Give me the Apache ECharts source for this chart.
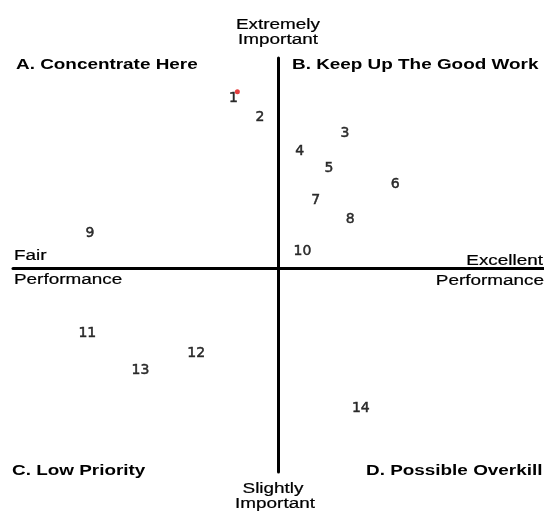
<!DOCTYPE html>
<html>
<head>
<meta charset="utf-8">
<script src="https://cdn.jsdelivr.net/npm/echarts@6/dist/echarts.min.js"></script>
<style>html,body{margin:0;padding:0;background:#fff;}#c{width:544px;height:511px;}</style>
</head>
<body>
<div id="c"></div>
<script>
// Item numbers and their positions (performance: -10 fair .. +10 excellent; importance: -10 slightly .. +10 extremely)
const itemLabels = ['1','2','3','4','5','6','7','8','9','10','11','12','13','14'];
const performance = [-1.7, -0.7, 2.5, 0.8, 1.9, 4.4, 1.4, 2.7, -7.1, 0.9, -7.2, -3.1, -5.2, 3.1];
const importance  = [8.3, 7.4, 6.6, 5.7, 4.9, 4.1, 3.3, 2.4, 1.7, 0.8, -3.2, -4.2, -5.0, -6.9];
// small red mark next to item 1
const markPerf = [-1.55];
const markImp = [8.65];

const quadrantTitles = ['A. Concentrate Here','B. Keep Up The Good Work','C. Low Priority','D. Possible Overkill'];
const axisTexts = ['Extremely','Important','Slightly','Important','Fair','Performance','Excellent','Performance'];

const chart = echarts.init(document.getElementById('c'));
const pts = itemLabels.map((n,i)=>({name:n, value:[performance[i], importance[i]]}));
const marks = markPerf.map((x,i)=>[x, markImp[i]]);

const SX = 1.35;
function txt(text, x, y, align, bold){
  const st = {text:text, font:(bold?'bold ':'')+'14px "Liberation Sans", Arial, sans-serif', fill:'#000',
      textAlign:align, textVerticalAlign:'middle', align:align, verticalAlign:'middle'};
  if(!bold){ st.stroke = '#000'; st.lineWidth = 0.2; }
  return {type:'text', x:x, y:y, scaleX:SX, z:10, style:st};
}

chart.setOption({
  animation:false,
  backgroundColor:'#fff',
  grid:{left:13, right:0, top:58, bottom:39},
  xAxis:{type:'value', min:-10, max:10,
    axisLine:{onZero:true, lineStyle:{color:'#000', width:3}},
    axisTick:{show:false}, axisLabel:{show:false}, splitLine:{show:false}},
  yAxis:{type:'value', min:-10, max:10.3,
    axisLine:{onZero:true, lineStyle:{color:'#000', width:3}},
    axisTick:{show:false}, axisLabel:{show:false}, splitLine:{show:false}},
  series:[
    {type:'scatter', data:pts, symbolSize:0,
      label:{show:true, position:'inside', formatter:'{b}', color:'#000',
        textBorderColor:'#000', textBorderWidth:0.5,
        fontFamily:'"DejaVu Sans", sans-serif', fontSize:14}},
    {type:'scatter', data:marks, symbolSize:5, itemStyle:{color:'#e01010'}}
  ],
  graphic:[
    txt(axisTexts[0], 278, 25, 'center', false),
    txt(axisTexts[1], 278, 40, 'center', false),
    txt(axisTexts[2], 273, 489, 'center', false),
    txt(axisTexts[3], 275, 504, 'center', false),
    txt(axisTexts[4], 14, 256, 'left', false),
    txt(axisTexts[5], 14, 280, 'left', false),
    txt(axisTexts[6], 543, 261, 'right', false),
    txt(axisTexts[7], 544, 281, 'right', false),
    txt(quadrantTitles[0], 16, 65, 'left', true),
    txt(quadrantTitles[1], 292, 65, 'left', true),
    txt(quadrantTitles[2], 12, 471, 'left', true),
    txt(quadrantTitles[3], 366, 471, 'left', true)
  ]
});
</script>
</body>
</html>
